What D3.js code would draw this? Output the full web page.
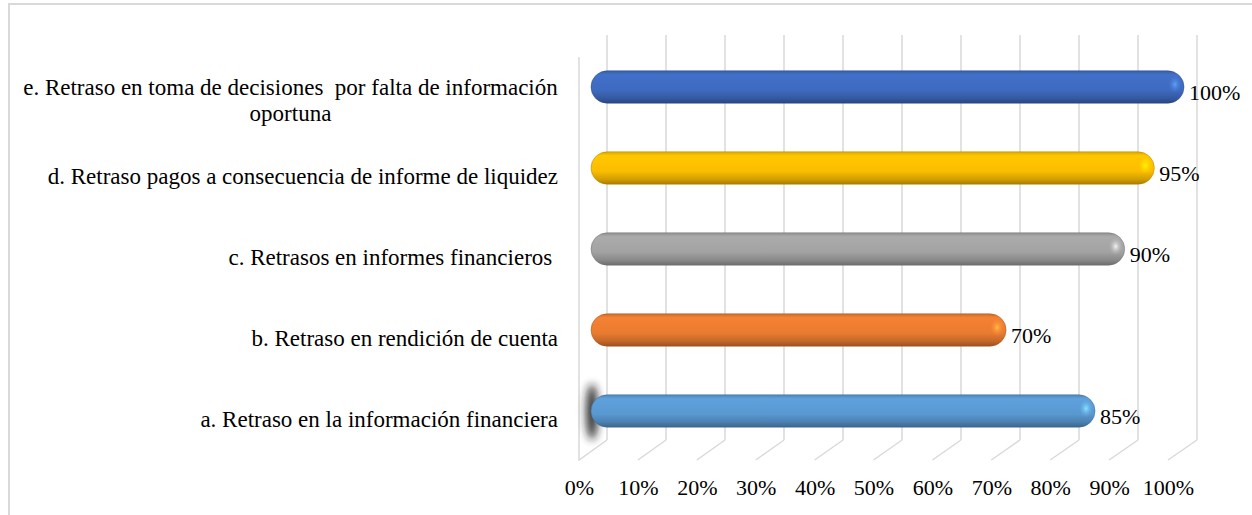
<!DOCTYPE html>
<html>
<head>
<meta charset="utf-8">
<script src="https://cdn.jsdelivr.net/npm/d3@7"></script>
<style>
  body { margin: 0; background: #fff; }
  svg text { font-family: "Liberation Serif", "Times New Roman", serif; fill: #000; white-space: pre; }
</style>
</head>
<body>
<svg id="chart" width="1252" height="515"></svg>
<script>
// categories from bottom to top, as in the picture
var categories = [
  "a. Retraso en la información financiera",
  "b. Retraso en rendición de cuenta",
  "c. Retrasos en informes financieros ",
  "d. Retraso pagos a consecuencia de informe de liquidez",
  "e. Retraso en toma de decisiones  por falta de información\noportuna"
];
var values = [0.85, 0.70, 0.90, 0.95, 1.00];
var colors = ["#5b9bd5", "#ed7d31", "#a5a5a5", "#ffc000", "#3f6cc2"];
var ticks = [0, 0.1, 0.2, 0.3, 0.4, 0.5, 0.6, 0.7, 0.8, 0.9, 1.0];

var svg = d3.select("#chart");
var defs = svg.append("defs");

// frame, only top and left visible
svg.append("rect")
  .attr("x", 9).attr("y", 4)
  .attr("width", 1400).attr("height", 700)
  .attr("fill", "none")
  .attr("stroke", "#d9d9d9")
  .attr("stroke-width", 2);

// 3d depth of the plot box
var depthX = -28, depthY = 20;
var wallTop = 35, wallBottom = 440;

var xBack = d3.scaleLinear().domain([0, 1]).range([607, 1197]);
var xFront = d3.scaleLinear().domain([0, 1]).range([607 + depthX, 1197 + depthX - 1]);
var xBar = d3.scaleLinear().domain([0, 1]).range([591, 1184]);

var order = d3.range(categories.length).reverse(); // e on top
var y = d3.scaleBand().domain(order).range([46.5, 451.5])
  .paddingInner(0.6).paddingOuter(0.3);

var grid = svg.append("g").attr("stroke", "#d9d9d9").attr("stroke-width", 1.5).attr("fill", "none");

// left side wall
grid.append("path")
  .attr("d", "M" + xFront(0) + "," + (wallTop + depthY + 2) + "V" + (wallBottom + depthY) +
             "L" + xBack(0) + "," + wallBottom);

// back wall lines
grid.selectAll("line.back")
  .data(ticks)
  .enter().append("line")
  .attr("class", "back")
  .attr("x1", function(d) { return xBack(d); })
  .attr("x2", function(d) { return xBack(d); })
  .attr("y1", wallTop)
  .attr("y2", wallBottom);

// floor lines
grid.selectAll("line.floor")
  .data(ticks.slice(1))
  .enter().append("line")
  .attr("class", "floor")
  .attr("x1", function(d) { return xBack(d); })
  .attr("y1", wallBottom)
  .attr("x2", function(d) { return xFront(d); })
  .attr("y2", wallBottom + depthY);

// shadow blob on the side wall
defs.append("filter").attr("id", "blur")
  .attr("x", "-100%").attr("y", "-100%").attr("width", "300%").attr("height", "300%")
  .append("feGaussianBlur").attr("stdDeviation", 4);
svg.append("ellipse")
  .attr("cx", 592).attr("cy", y(0) + y.bandwidth() / 2 + 1)
  .attr("rx", 6).attr("ry", 28)
  .attr("fill", "#1a1a1a")
  .attr("opacity", 0.9)
  .attr("filter", "url(#blur)");

// gradients for the cylinders
colors.forEach(function(c, i) {
  var g = defs.append("linearGradient")
    .attr("id", "grad" + i)
    .attr("x1", 0).attr("y1", 0).attr("x2", 0).attr("y2", 1);
  var base = d3.color(c);
  g.append("stop").attr("offset", "0%").attr("stop-color", base.darker(0.4));
  g.append("stop").attr("offset", "12%").attr("stop-color", base.brighter(0.1));
  g.append("stop").attr("offset", "30%").attr("stop-color", base.brighter(0.05));
  g.append("stop").attr("offset", "60%").attr("stop-color", base.darker(0.05));
  g.append("stop").attr("offset", "85%").attr("stop-color", base.darker(0.55));
  g.append("stop").attr("offset", "100%").attr("stop-color", base.darker(1.2));

  var r = defs.append("radialGradient").attr("id", "hl" + i);
  r.append("stop").attr("offset", "0%").attr("stop-color", base.brighter(1.2)).attr("stop-opacity", 0.9);
  r.append("stop").attr("offset", "100%").attr("stop-color", base.brighter(0.3)).attr("stop-opacity", 0);
});

var bars = svg.append("g");
var bh = y.bandwidth();

bars.selectAll("rect.bar")
  .data(values)
  .enter().append("rect")
  .attr("class", "bar")
  .attr("x", xBar(0))
  .attr("y", function(d, i) { return y(i); })
  .attr("width", function(d) { return xBar(d) - xBar(0); })
  .attr("height", bh)
  .attr("rx", bh / 2).attr("ry", bh / 2)
  .attr("fill", function(d, i) { return "url(#grad" + i + ")"; })
  .attr("stroke", function(d, i) { return d3.color(colors[i]).darker(1); })
  .attr("stroke-opacity", 0.5)
  .attr("stroke-width", 1);

// specular spot near the end cap
bars.selectAll("ellipse.hl")
  .data(values)
  .enter().append("ellipse")
  .attr("class", "hl")
  .attr("cx", function(d) { return xBar(d) - 9; })
  .attr("cy", function(d, i) { return y(i) + bh * 0.42; })
  .attr("rx", 7).attr("ry", 9)
  .attr("fill", function(d, i) { return "url(#hl" + i + ")"; });

// value labels
svg.append("g").selectAll("text")
  .data(values)
  .enter().append("text")
  .attr("x", function(d) { return xBar(d) + 5; })
  .attr("y", function(d, i) { return y(i) + bh / 2 + 13; })
  .attr("font-size", 22)
  .text(d3.format(".0%"));

// category labels, block right aligned, lines centred
var labelG = svg.append("g");
categories.forEach(function(c, i) {
  var lines = c.split("\n");
  var base = y(i) + bh / 2 + 16 - (lines.length - 1) * 8;
  var t = labelG.append("text")
    .attr("font-size", 23)
    .attr("y", base);
  t.selectAll("tspan")
    .data(lines)
    .enter().append("tspan")
    .attr("x", 0)
    .attr("dy", function(d, k) { return k ? 26 : 0; })
    .text(function(d) { return d; });
  var w = t.node().getBBox().width;
  t.selectAll("tspan").attr("x", 558 - w / 2).attr("text-anchor", "middle");
});

// x axis labels at the front edge
var axis = d3.axisBottom(xFront)
  .tickValues(ticks)
  .tickFormat(d3.format(".0%"))
  .tickSize(0)
  .tickPadding(0);
var ax = svg.append("g").attr("transform", "translate(0,479)").call(axis);
ax.select(".domain").remove();
ax.selectAll("text")
  .attr("font-size", 22)
  .attr("font-family", "Liberation Serif, Times New Roman, serif")
  .attr("fill", "#000");
</script>
</body>
</html>
